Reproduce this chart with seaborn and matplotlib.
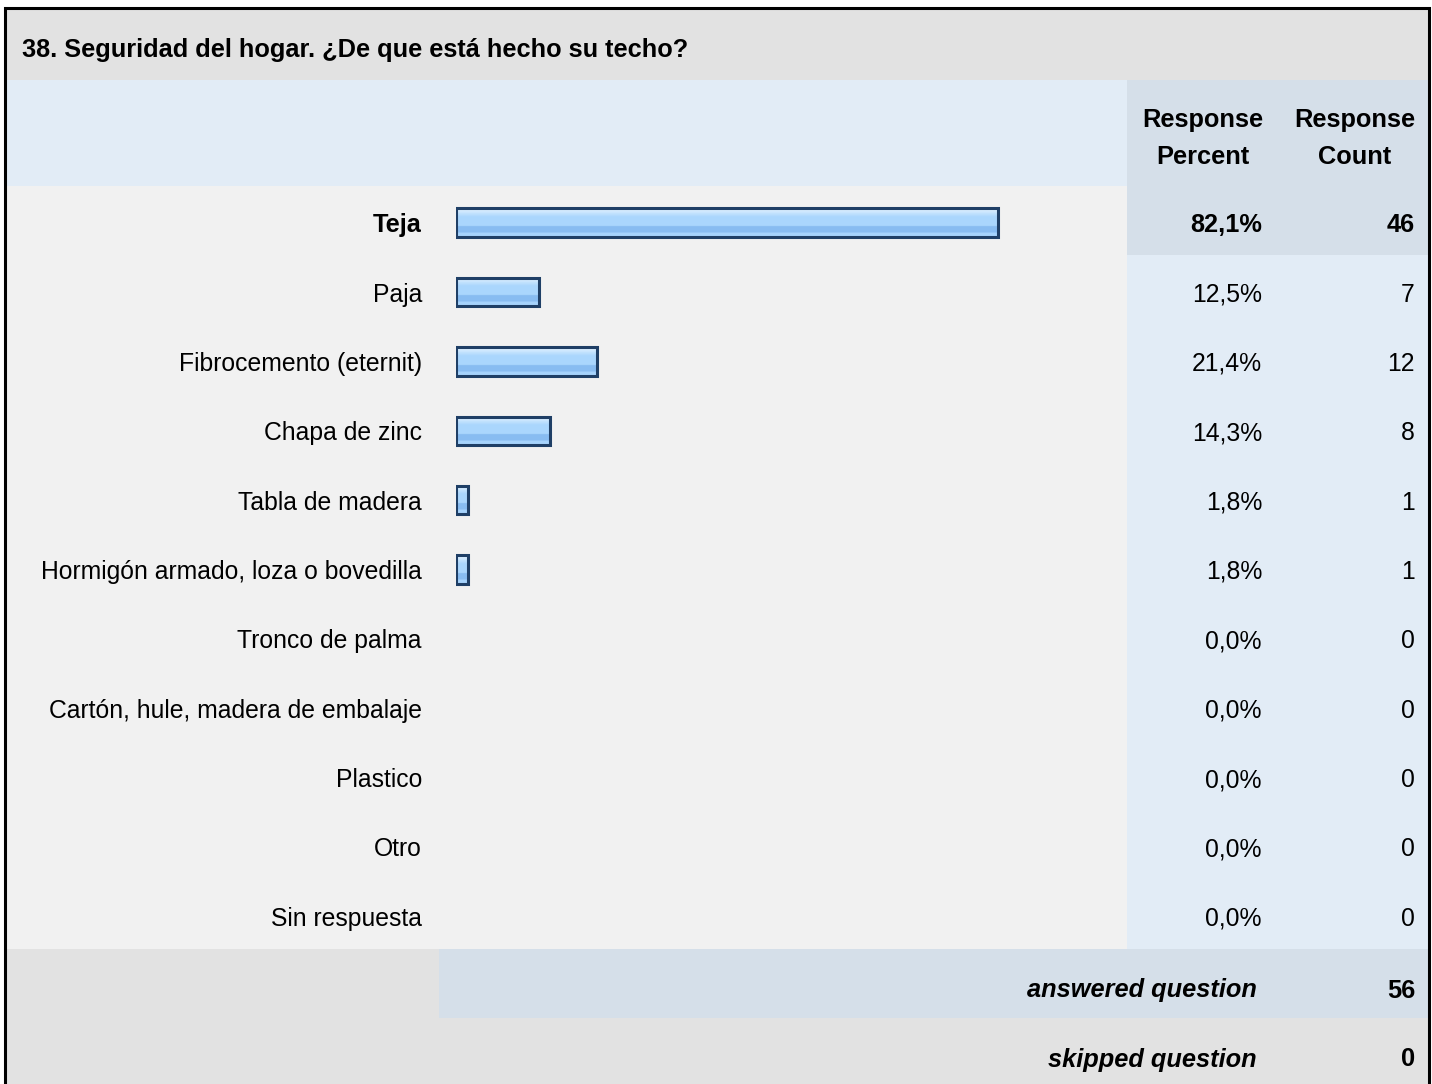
import numpy as np
import matplotlib
matplotlib.use("Agg")
import matplotlib.pyplot as plt
from matplotlib.patches import Rectangle
from matplotlib.transforms import blended_transform_factory
from matplotlib.colors import LinearSegmentedColormap
import seaborn as sns

# ---- data ----
title = "38. Seguridad del hogar. ¿De que está hecho su techo?"
answers = ["Teja", "Paja", "Fibrocemento (eternit)", "Chapa de zinc",
           "Tabla de madera", "Hormigón armado, loza o bovedilla",
           "Tronco de palma", "Cartón, hule, madera de embalaje",
           "Plastico", "Otro", "Sin respuesta"]
percents = [82.1, 12.5, 21.4, 14.3, 1.8, 1.8, 0.0, 0.0, 0.0, 0.0, 0.0]
counts = [46, 7, 12, 8, 1, 1, 0, 0, 0, 0, 0]
answered = 56
skipped = 0

plt.rcParams["font.family"] = ["Liberation Sans", "DejaVu Sans"]
FS = 17.8   # regular text
FB = 18.3   # bold text

W, H = 1432, 1084
fig = plt.figure(figsize=(W / 100, H / 100), dpi=100)

# background axes in pixel units
bg = fig.add_axes([0, 0, 1, 1])
bg.set_xlim(0, W)
bg.set_ylim(H, 0)
bg.axis("off")

GRAY = "#e2e2e2"
LIGHT = "#f1f1f1"
BLUE1 = "#e2ecf6"
BLUE2 = "#d5dfe9"

left, right = 6, 1428
col_x = 1127
top_rows, n = 186, len(answers)
row_h = (949 - top_rows) / n

def box(x0, y0, x1, y1, c):
    bg.add_patch(Rectangle((x0, y0), x1 - x0, y1 - y0, color=c, lw=0, zorder=0))

box(left, 9, right, 80, GRAY)
box(left, 80, col_x, top_rows, BLUE1)
box(col_x, 80, right, top_rows, BLUE2)
box(left, top_rows, col_x, 949, LIGHT)
box(col_x, top_rows, right, 949, BLUE1)
box(col_x, top_rows, right, top_rows + row_h, BLUE2)
box(left, 949, 439, 1018, GRAY)
box(439, 949, right, 1018, BLUE2)
box(left, 1018, right, H + 5, GRAY)

# outer border
bg.plot([5, 5, 1428.5, 1428.5], [H + 5, 8, 8, H + 5], color="black", lw=2.2,
        solid_joinstyle="miter", zorder=5)

bg.text(22, 48, title, fontsize=FB, fontweight="bold", va="center_baseline", ha="left")
for cx, word in [(1203, "Percent"), (1355, "Count")]:
    bg.text(cx, 117, "Response", fontsize=FB, fontweight="bold", ha="center",
            va="center_baseline")
    bg.text(cx, 155, word, fontsize=FB, fontweight="bold", ha="center",
            va="center_baseline")

bg.text(1257, 988, "answered question", fontsize=FB, fontweight="bold",
        style="italic", ha="right", va="center_baseline")
bg.text(1415, 988, str(answered), fontsize=FB, fontweight="bold", ha="right",
        va="center_baseline")
bg.text(1257, 1057, "skipped question", fontsize=FB, fontweight="bold",
        style="italic", ha="right", va="center_baseline")
bg.text(1415, 1057, str(skipped), fontsize=FB, fontweight="bold", ha="right",
        va="center_baseline")

# bar axes: 0% at x=456 px, 100% at 1116 px, rows shifted 2 px down
x0, x100 = 456.0, 1116.0
ax = fig.add_axes([x0 / W, (H - 951) / H, (x100 - x0) / W, (949 - top_rows) / H])
sns.barplot(x=percents, y=answers, orient="h", ax=ax, color="#a9d5fd",
            edgecolor="#1f3f66", linewidth=2.2, width=0.41)
ax.set_xlim(0, 100)
ax.set_ylim(n - 0.5, -0.5)
ax.patch.set_visible(False)
for s in ax.spines.values():
    s.set_visible(False)
ax.set_xticks([])
ax.set_xlabel("")
ax.set_ylabel("")
ax.tick_params(axis="y", length=0, pad=24.5, labelsize=FS)
ax.get_yticklabels()[0].set_fontweight("bold")
ax.get_yticklabels()[0].set_fontsize(FB)

# glossy gradient inside bars
grad = LinearSegmentedColormap.from_list("gloss", [
    (0.0, "#e4f3ff"), (0.15, "#c8e5fe"), (0.3, "#aad6fd"), (0.6, "#aad6fd"),
    (0.64, "#88bcf1"), (0.84, "#88bcf1"), (0.88, "#a6d3fc"), (1.0, "#a6d3fc")])
g = np.linspace(0, 1, 64).reshape(-1, 1)
for p in list(ax.patches):
    if p.get_width() <= 0:
        p.set_visible(False)
        continue
    bx, by = p.get_x(), p.get_y()
    bw, bh = p.get_width(), p.get_height()
    im = ax.imshow(g, cmap=grad, aspect="auto", extent=(bx, bx + bw, by + bh, by),
                   interpolation="nearest", zorder=p.get_zorder() - 0.1)
    im.set_clip_path(p)
    p.set_facecolor("none")
ax.set_xlim(0, 100)
ax.set_ylim(n - 0.5, -0.5)

# percent / count columns
tr = blended_transform_factory(bg.transData, ax.transData)
for i, (pc, c) in enumerate(zip(percents, counts)):
    w, f = ("bold", FB) if i == 0 else ("normal", FS)
    ax.text(1262, i, f"{pc:.1f}%".replace(".", ","), transform=tr, fontsize=f,
            fontweight=w, ha="right", va="center_baseline")
    ax.text(1415, i, str(c), transform=tr, fontsize=f, fontweight=w,
            ha="right", va="center_baseline")

fig.savefig("out.png", dpi=100)
